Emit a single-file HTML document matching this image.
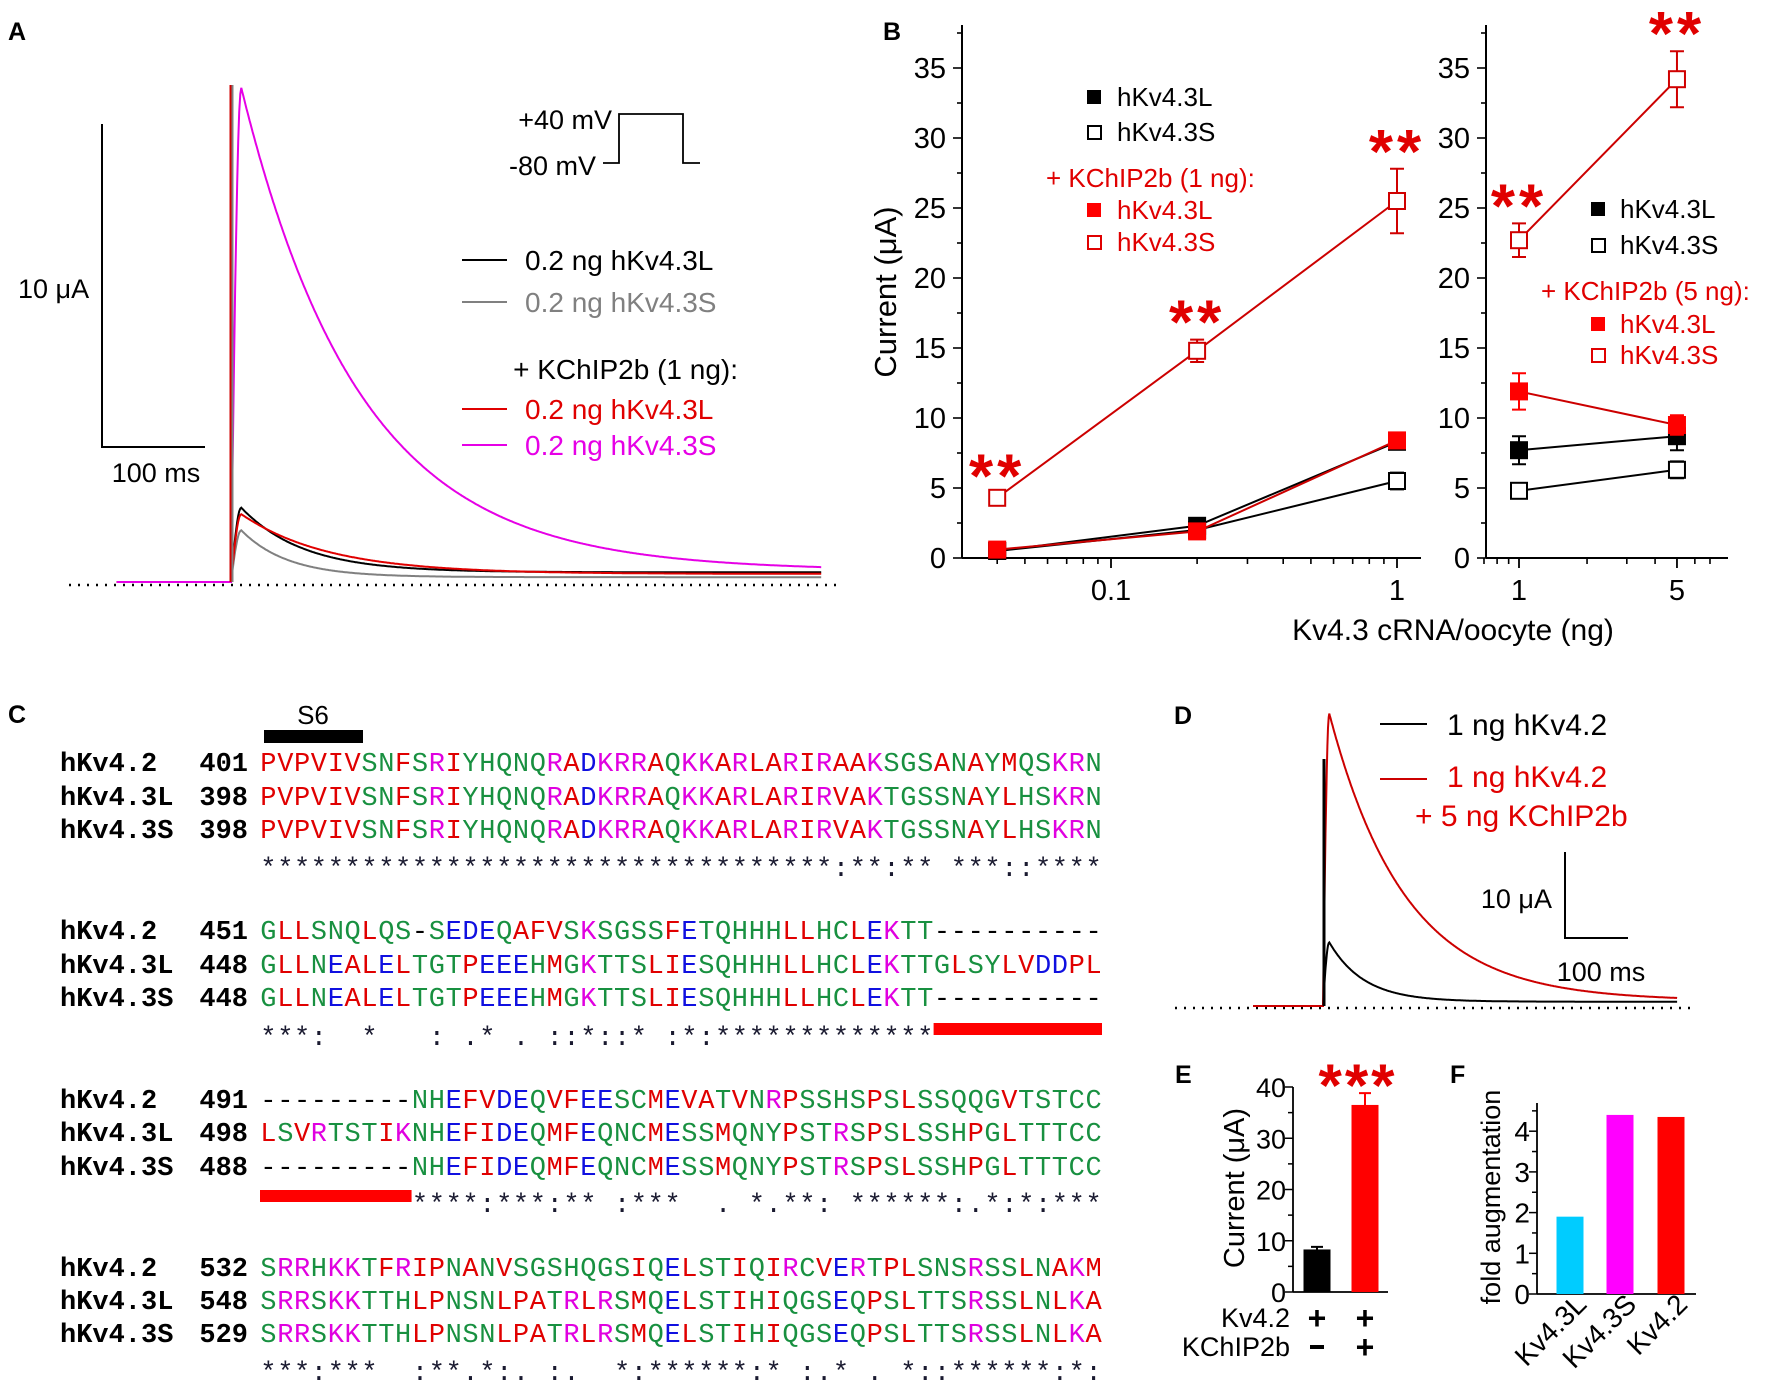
<!DOCTYPE html>
<html><head><meta charset="utf-8"><style>
html,body{margin:0;padding:0;background:#fff}
svg{display:block}
text{font-family:"Liberation Sans",sans-serif}
.nar{font-family:"Liberation Sans Narrow","Liberation Sans",sans-serif}
.mono{font-family:"Liberation Mono",monospace}
.lbl{font-weight:bold;font-size:25px}
</style></head><body>
<svg id="fig" width="1772" height="1386" viewBox="0 0 1772 1386" xmlns="http://www.w3.org/2000/svg">
<rect width="1772" height="1386" fill="#fff"/>
<text class="lbl" x="8" y="40">A</text>
<text class="lbl" x="883" y="40">B</text>
<text class="lbl" x="8" y="723">C</text>
<text class="lbl" x="1174" y="724">D</text>
<text class="lbl" x="1175" y="1083">E</text>
<text class="lbl" x="1450" y="1083">F</text>

<g id="panelA">
<line x1="102" y1="124" x2="102" y2="447" stroke="#000" stroke-width="2"/>
<line x1="101" y1="447" x2="205" y2="447" stroke="#000" stroke-width="2"/>
<text x="18" y="298" font-size="27" class="nar">10 μA</text>
<text x="156" y="482" font-size="27" text-anchor="middle" class="nar">100 ms</text>
<polyline points="603,163 619,163 619,114 683,114 683,163 700,163" fill="none" stroke="#000" stroke-width="1.8"/>
<text x="612" y="129" font-size="27" text-anchor="end" class="nar">+40 mV</text>
<text x="596" y="175" font-size="27" text-anchor="end" class="nar">-80 mV</text>
<g font-size="28">
<line x1="462" y1="260" x2="507" y2="260" stroke="#000" stroke-width="2"/>
<text x="525" y="270" fill="#000">0.2 ng hKv4.3L</text>
<line x1="462" y1="302" x2="507" y2="302" stroke="#808080" stroke-width="2"/>
<text x="525" y="312" fill="#808080">0.2 ng hKv4.3S</text>
<text x="738" y="379" text-anchor="end" fill="#000">+ KChIP2b (1 ng):</text>
<line x1="462" y1="409" x2="507" y2="409" stroke="#e00000" stroke-width="2"/>
<text x="525" y="419" fill="#e00000">0.2 ng hKv4.3L</text>
<line x1="462" y1="445" x2="507" y2="445" stroke="#e600e6" stroke-width="2"/>
<text x="525" y="455" fill="#e600e6">0.2 ng hKv4.3S</text>
</g>
</g>

<g id="panelB">
<text transform="translate(896,292) rotate(-90)" font-size="31" text-anchor="middle" class="nar">Current (μA)</text>
<text x="1453" y="640" font-size="30" text-anchor="middle" class="nar">Kv4.3 cRNA/oocyte (ng)</text>
<g font-size="26" class="nar">
<rect x="1087" y="90" width="14" height="14" fill="#000"/>
<text x="1117" y="106">hKv4.3L</text>
<rect x="1088" y="126" width="13" height="13" fill="#fff" stroke="#000" stroke-width="2"/>
<text x="1117" y="141">hKv4.3S</text>
<text x="1046" y="187" fill="#e00000">+ KChIP2b (1 ng):</text>
<rect x="1087" y="203" width="14" height="14" fill="#ff0000"/>
<text x="1117" y="219" fill="#e00000">hKv4.3L</text>
<rect x="1088" y="236" width="13" height="13" fill="#fff" stroke="#e00000" stroke-width="2"/>
<text x="1117" y="251" fill="#e00000">hKv4.3S</text>
</g>
<g font-size="26" class="nar">
<rect x="1591" y="202" width="14" height="14" fill="#000"/>
<text x="1620" y="218">hKv4.3L</text>
<rect x="1592" y="239" width="13" height="13" fill="#fff" stroke="#000" stroke-width="2"/>
<text x="1620" y="254">hKv4.3S</text>
<text x="1541" y="300" fill="#e00000">+ KChIP2b (5 ng):</text>
<rect x="1591" y="317" width="14" height="14" fill="#ff0000"/>
<text x="1620" y="333" fill="#e00000">hKv4.3L</text>
<rect x="1592" y="349" width="13" height="13" fill="#fff" stroke="#e00000" stroke-width="2"/>
<text x="1620" y="364" fill="#e00000">hKv4.3S</text>
</g>
</g>

<g id="panelC">
<rect x="264" y="730" width="99" height="13" fill="#000"/>
<text x="313" y="724" font-size="26" text-anchor="middle">S6</text>
</g>

<g id="panelD">
<line x1="1565" y1="852" x2="1565" y2="938" stroke="#000" stroke-width="2"/>
<line x1="1564" y1="938" x2="1628" y2="938" stroke="#000" stroke-width="2"/>
<text x="1552" y="908" font-size="27" text-anchor="end">10 μA</text>
<text x="1601" y="981" font-size="27" text-anchor="middle">100 ms</text>
<line x1="1380" y1="724" x2="1427" y2="724" stroke="#000" stroke-width="2"/>
<text x="1447" y="735" font-size="30">1 ng hKv4.2</text>
<line x1="1380" y1="779" x2="1427" y2="779" stroke="#cc0000" stroke-width="2"/>
<text x="1447" y="787" font-size="30" fill="#e00000">1 ng hKv4.2</text>
<text x="1415" y="826" font-size="30" fill="#e00000">+ 5 ng KChIP2b</text>
</g>

<g id="panelE">
<text transform="translate(1244,1188) rotate(-90)" font-size="29" text-anchor="middle" class="nar">Current (μA)</text>
<text x="1290" y="1327" font-size="27" text-anchor="end">Kv4.2</text>
<text x="1290" y="1356" font-size="27" text-anchor="end">KChIP2b</text>
<text x="1317" y="1329" font-size="32" font-weight="bold" text-anchor="middle">+</text>
<text x="1365" y="1329" font-size="32" font-weight="bold" text-anchor="middle">+</text>
<rect x="1310" y="1345" width="14" height="4" fill="#000"/>
<text x="1365" y="1358" font-size="32" font-weight="bold" text-anchor="middle">+</text>
</g>

<g id="panelF">
<text transform="translate(1500,1197) rotate(-90)" font-size="27" text-anchor="middle" class="nar">fold augmentation</text>
</g>
</svg>
<script>
const NS='http://www.w3.org/2000/svg';
const svg=document.getElementById('fig');
function mk(tag,attrs,parent,text){const e=document.createElementNS(NS,tag);for(const k in attrs)e.setAttribute(k,attrs[k]);if(text!==undefined)e.textContent=text;(parent||svg).appendChild(e);return e;}

const aTraceNames=['hKv4.3S','hKv4.3L','hKv4.3L+KChIP2b','hKv4.3S+KChIP2b'];
const aColors=['#808080','#000000','#e00000','#e600e6'];
const aPeaks=[1.6,2.3,2.1,15.3];
const aTaus=[45,60,85,115];
const aResid=[0.15,0.3,0.25,0.35];
const dTraceNames=['hKv4.2','hKv4.2+KChIP2b'];
const dColors=['#000000','#cc0000'];
const dPeaks=[7.4,34];
const dTaus=[55,120];
const dResid=[0.5,0.6];
const bLeftDoses=[0.04,0.2,1];
const bLeftL=[0.5,2.3,8.3];
const bLeftS=[0.5,2.0,5.5];
const bLeftSErr=[0.2,0.3,0.6];
const bLeftLK=[0.6,1.9,8.4];
const bLeftLKErr=[0.3,0.3,0.4];
const bLeftSK=[4.3,14.8,25.5];
const bLeftSKErr=[0.3,0.8,2.3];
const bRightDoses=[1,5];
const bRightL=[7.7,8.7];
const bRightLErr=[1.0,1.0];
const bRightS=[4.8,6.3];
const bRightSErr=[0.4,0.6];
const bRightLK=[11.9,9.5];
const bRightLKErr=[1.3,0.7];
const bRightSK=[22.7,34.2];
const bRightSKErr=[1.2,2.0];
const bYTicks=[0,5,10,15,20,25,30,35];
const eCats=['Kv4.2','Kv4.2+KChIP2b'];
const eVals=[8.3,36.5];
const eErrs=[0.5,2.3];
const eColors=['#000','#ff0000'];
const eYTicks=[0,10,20,30,40];
const fCats=['Kv4.3L','Kv4.3S','Kv4.2'];
const fVals=[1.9,4.4,4.35];
const fColors=['#00ccff','#ff00ff','#ff0000'];
const fYTicks=[0,1,2,3,4];

const gA=document.getElementById('panelA');
function xA(t){return 231+t*1.03;}
function yA(i){return 582-i*32.3;}
mk('line',{x1:69,y1:585,x2:843,y2:585,stroke:'#000','stroke-width':2.5,'stroke-dasharray':'2 7'},gA);
function tracePts(A,tau,res,xf,yf,tStart,tEnd,tp){
  let pts=[];
  for(let t=tStart;t<=tEnd;t+=1){
    let I;
    if(t<0) I=0;
    else if(t<tp) I=A*Math.sin(Math.PI/2*t/tp);
    else I=res+(A-res)*Math.exp(-(t-tp)/tau);
    pts.push(xf(t).toFixed(1)+','+yf(I).toFixed(1));
  }
  return pts.join(' ');
}
for(let k=0;k<aPeaks.length;k++){
  const p=mk('polyline',{points:tracePts(aPeaks[k],aTaus[k],aResid[k],xA,yA,-111,573,10),fill:'none',stroke:aColors[k],'stroke-width':2},gA);
  
}
mk('line',{x1:232,y1:582,x2:232,y2:85,stroke:'#808080','stroke-width':3},gA);
mk('line',{x1:230.5,y1:582,x2:230.5,y2:85,stroke:'#d00000','stroke-width':2},gA);

const gD=document.getElementById('panelD');
function xD(t){return 1323+t*0.63;}
function yD(i){return 1006-i*8.6;}
mk('line',{x1:1175,y1:1008,x2:1696,y2:1008,stroke:'#000','stroke-width':2.5,'stroke-dasharray':'2 7'},gD);
mk('polyline',{points:tracePts(dPeaks[0],dTaus[0],dResid[0],xD,yD,-111,562,10),fill:'none',stroke:dColors[0],'stroke-width':2},gD);
mk('polyline',{points:tracePts(dPeaks[1],dTaus[1],dResid[1],xD,yD,-111,562,10),fill:'none',stroke:dColors[1],'stroke-width':2},gD);
mk('line',{x1:1324,y1:1006,x2:1324,y2:759,stroke:'#000','stroke-width':3},gD);

const gB=document.getElementById('panelB');
function yB(v){return 558-v*14.0;}
function xBL(v){return 1397+Math.log10(v)*286;}
function xBR(v){return 1519+Math.log10(v)*226;}
function axesB(ax,x0,x1,xf,majors,minors,labels,side){
  mk('line',{x1:ax,y1:yB(0),x2:ax,y2:25,stroke:'#000','stroke-width':2},gB);
  mk('line',{x1:ax,y1:yB(0),x2:x1,y2:yB(0),stroke:'#000','stroke-width':2},gB);
  for(let v=0;v<=37.5;v+=2.5){
    const maj=(v%5===0);
    mk('line',{x1:ax,y1:yB(v),x2:ax-(maj?9:5),y2:yB(v),stroke:'#000','stroke-width':1.6},gB);
  }
  for(const t of bYTicks){
    const e=mk('text',{x:ax-16,y:yB(t)+10,'font-size':29,'text-anchor':'end',class:'nar'},gB,String(t));
    
  }
  for(const m of minors){mk('line',{x1:xf(m),y1:yB(0),x2:xf(m),y2:yB(0)+6,stroke:'#000','stroke-width':1.6},gB);}
  for(let i=0;i<majors.length;i++){
    mk('line',{x1:xf(majors[i]),y1:yB(0),x2:xf(majors[i]),y2:yB(0)+10,stroke:'#000','stroke-width':1.8},gB);
    const e=mk('text',{x:xf(majors[i]),y:600,'font-size':29,'text-anchor':'middle',class:'nar'},gB,labels[i]);
    
  }
}
axesB(962,962,1421,xBL,[0.1,1],[0.04,0.05,0.06,0.07,0.08,0.09,0.2,0.3,0.4,0.5,0.6,0.7,0.8,0.9],['0.1','1'],'b-left');
axesB(1486,1486,1728,xBR,[1,5],[0.7,0.8,0.9,2,3,4,6,7],['1','5'],'b-right');
function seriesB(xs,ys,errs,xf,lineCol,fill,stroke,name){
  const pts=xs.map((x,i)=>xf(x).toFixed(1)+','+yB(ys[i]).toFixed(1)).join(' ');
  mk('polyline',{points:pts,fill:'none',stroke:lineCol,'stroke-width':2},gB);
  for(let i=0;i<xs.length;i++){
    const cx=xf(xs[i]),cy=yB(ys[i]);
    if(errs){
      const e=errs[i];
      mk('path',{d:`M${cx},${yB(ys[i]+e)}V${yB(ys[i]-e)}M${cx-7},${yB(ys[i]+e)}H${cx+7}M${cx-7},${yB(ys[i]-e)}H${cx+7}`,stroke:stroke,'stroke-width':2,fill:'none'},gB);
    }
    const r=mk('rect',{x:cx-8,y:cy-8,width:16,height:16,fill:fill,stroke:stroke,'stroke-width':2},gB);
    
  }
}
seriesB(bLeftDoses,bLeftS,bLeftSErr,xBL,'#000','#fff','#000','b-left-43s');
seriesB(bLeftDoses,bLeftL,null,xBL,'#000','#000','#000','b-left-43l');
seriesB(bLeftDoses,bLeftLK,bLeftLKErr,xBL,'#cc0000','#ff0000','#ff0000','b-left-43l-kchip');
seriesB(bLeftDoses,bLeftSK,bLeftSKErr,xBL,'#cc0000','#fff','#d00000','b-left-43s-kchip');
seriesB(bRightDoses,bRightS,bRightSErr,xBR,'#000','#fff','#000','b-right-43s');
seriesB(bRightDoses,bRightL,bRightLErr,xBR,'#000','#000','#000','b-right-43l');
seriesB(bRightDoses,bRightLK,bRightLKErr,xBR,'#cc0000','#ff0000','#ff0000','b-right-43l-kchip');
seriesB(bRightDoses,bRightSK,bRightSKErr,xBR,'#cc0000','#fff','#d00000','b-right-43s-kchip');
for(let i=0;i<bLeftDoses.length;i++){
  const s=mk('text',{x:xBL(bLeftDoses[i]),y:yB(bLeftSK[i]+bLeftSKErr[i])+4,'font-size':62,'font-weight':'bold','letter-spacing':'4','fill':'#e00000','text-anchor':'middle'},gB,'**');
  
}
for(let i=0;i<bRightDoses.length;i++){
  const s=mk('text',{x:xBR(bRightDoses[i]),y:yB(bRightSK[i]+bRightSKErr[i])+4,'font-size':62,'font-weight':'bold','letter-spacing':'4','fill':'#e00000','text-anchor':'middle'},gB,'**');
  
}

const gC=document.getElementById('panelC');
const blocks=[
 {nums:[401,398,398],seqs:['PVPVIVSNFSRIYHQNQRADKRRAQKKARLARIRAAKSGSANAYMQSKRN','PVPVIVSNFSRIYHQNQRADKRRAQKKARLARIRVAKTGSSNAYLHSKRN','PVPVIVSNFSRIYHQNQRADKRRAQKKARLARIRVAKTGSSNAYLHSKRN'],ys:[762,796,829,860],bar:null},
 {nums:[451,448,448],seqs:['GLLSNQLQS-SEDEQAFVSKSGSSFETQHHHLLHCLEKTT----------','GLLNEALELTGTPEEEHMGKTTSLIESQHHHLLHCLEKTTGLSYLVDDPL','GLLNEALELTGTPEEEHMGKTTSLIESQHHHLLHCLEKTT----------'],ys:[930,964,997,1029],bar:[40,50]},
 {nums:[491,498,488],seqs:['---------NHEFVDEQVFEESCMEVATVNRPSSHSPSLSSQQGVTSTCC','LSVRTSTIKNHEFIDEQMFEQNCMESSMQNYPSTRSPSLSSHPGLTTTCC','---------NHEFIDEQMFEQNCMESSMQNYPSTRSPSLSSHPGLTTTCC'],ys:[1099,1132,1166,1196],bar:[0,9]},
 {nums:[532,548,529],seqs:['SRRHKKTFRIPNANVSGSHQGSIQELSTIQIRCVERTPLSNSRSSLNAKM','SRRSKKTTHLPNSNLPATRLRSMQELSTIHIQGSEQPSLTTSRSSLNLKA','SRRSKKTTHLPNSNLPATRLRSMQELSTIHIQGSEQPSLTTSRSSLNLKA'],ys:[1267,1300,1333,1364],bar:null}
];
const names=['hKv4.2','hKv4.3L','hKv4.3S'];
function aaColor(c){
  if('AVFPMILW'.includes(c))return '#e00000';
  if('DE'.includes(c))return '#1010e0';
  if('RK'.includes(c))return '#e000e0';
  if('STYHCNGQ'.includes(c))return '#189040';
  return '#000';
}
const CW=16.84, SX=260;
blocks.forEach((b,bi)=>{
  for(let r=0;r<3;r++){
    const y=b.ys[r]+9;
    const n=mk('text',{x:60,y:y,'font-size':27,'font-weight':'bold',class:'mono'},gC,names[r]);
    
    const num=mk('text',{x:248,y:y,'font-size':27,'font-weight':'bold',class:'mono','text-anchor':'end'},gC,String(b.nums[r]));
    
    const t=mk('text',{y:y,'font-size':27,class:'mono'},gC);
    
    const s=b.seqs[r];
    for(let i=0;i<s.length;i++){
      mk('tspan',{x:(SX+i*CW+CW/2).toFixed(1),'text-anchor':'middle',fill:aaColor(s[i])},t,s[i]);
    }
  }
  const cy=b.ys[3];
  const cons=mk('text',{y:cy+16,'font-size':27,class:'mono',fill:'#1a1a30'},gC);
  
  for(let i=0;i<50;i++){
    if(b.bar&&i>=b.bar[0]&&i<b.bar[1])continue;
    const a=b.seqs[0][i],c=b.seqs[1][i],d=b.seqs[2][i];
    let ch=' ';
    if(a===c&&c===d&&a!=='-')ch='*';
    else if(a!=='-'&&c!=='-'&&d!=='-'&&aaColor(a)===aaColor(c)&&aaColor(c)===aaColor(d))ch=':';
    else if(a!=='-'&&c!=='-'&&d!=='-')ch=(i%3===0)?'.':' ';
    if(ch!==' ')mk('tspan',{x:(SX+i*CW+CW/2).toFixed(1),'text-anchor':'middle'},cons,ch);
  }
  if(b.bar){
    const rb=mk('rect',{x:SX+b.bar[0]*CW,y:cy-6,width:(b.bar[1]-b.bar[0])*CW,height:12,fill:'#ff0000'},gC);
    
  }
});

const gE=document.getElementById('panelE');
function yE(v){return 1292-v*5.125;}
mk('line',{x1:1293,y1:yE(0),x2:1293,y2:yE(40),stroke:'#000','stroke-width':1.8},gE);
mk('line',{x1:1293,y1:yE(0),x2:1388,y2:yE(0),stroke:'#000','stroke-width':1.8},gE);
for(let v=0;v<=40;v+=5){mk('line',{x1:1293,y1:yE(v),x2:1293-(v%10===0?8:5),y2:yE(v),stroke:'#000','stroke-width':1.5},gE);}
for(const t of eYTicks){const e=mk('text',{x:1286,y:yE(t)+10,'font-size':27,'text-anchor':'end',class:'nar'},gE,String(t));}
const eX=[1317,1365];
for(let i=0;i<eVals.length;i++){
  mk('path',{d:`M${eX[i]},${yE(eVals[i])}V${yE(eVals[i]+eErrs[i])}M${eX[i]-6},${yE(eVals[i]+eErrs[i])}H${eX[i]+6}`,stroke:eColors[i],'stroke-width':2,fill:'none'},gE);
  const r=mk('rect',{x:eX[i]-13.5,y:yE(eVals[i]),width:27,height:yE(0)-yE(eVals[i]),fill:eColors[i]},gE);
  
}
mk('text',{x:1358,y:1106,'font-size':60,'font-weight':'bold','letter-spacing':'3',fill:'#e00000','text-anchor':'middle'},gE,'***');

const gF=document.getElementById('panelF');
function yF(v){return 1294-v*40.7;}
mk('line',{x1:1537,y1:yF(0),x2:1537,y2:1103,stroke:'#000','stroke-width':1.8},gF);
mk('line',{x1:1537,y1:yF(0),x2:1696,y2:yF(0),stroke:'#000','stroke-width':1.8},gF);
for(let v=0;v<=4.5;v+=0.5){mk('line',{x1:1537,y1:yF(v),x2:1537-(v%1===0?8:5),y2:yF(v),stroke:'#000','stroke-width':1.5},gF);}
for(const t of fYTicks){const e=mk('text',{x:1530,y:yF(t)+10,'font-size':28,'text-anchor':'end',class:'nar'},gF,String(t));}
const fX=[1570,1620,1671];
for(let i=0;i<fVals.length;i++){
  const r=mk('rect',{x:fX[i]-13.5,y:yF(fVals[i]),width:27,height:yF(0)-yF(fVals[i]),fill:fColors[i]},gF);
  
  const l=mk('text',{x:0,y:0,'font-size':28,'text-anchor':'end',class:'nar',transform:`translate(${fX[i]+18},${1306}) rotate(-45)`},gF,fCats[i]);
  
}
</script>
</body></html>
